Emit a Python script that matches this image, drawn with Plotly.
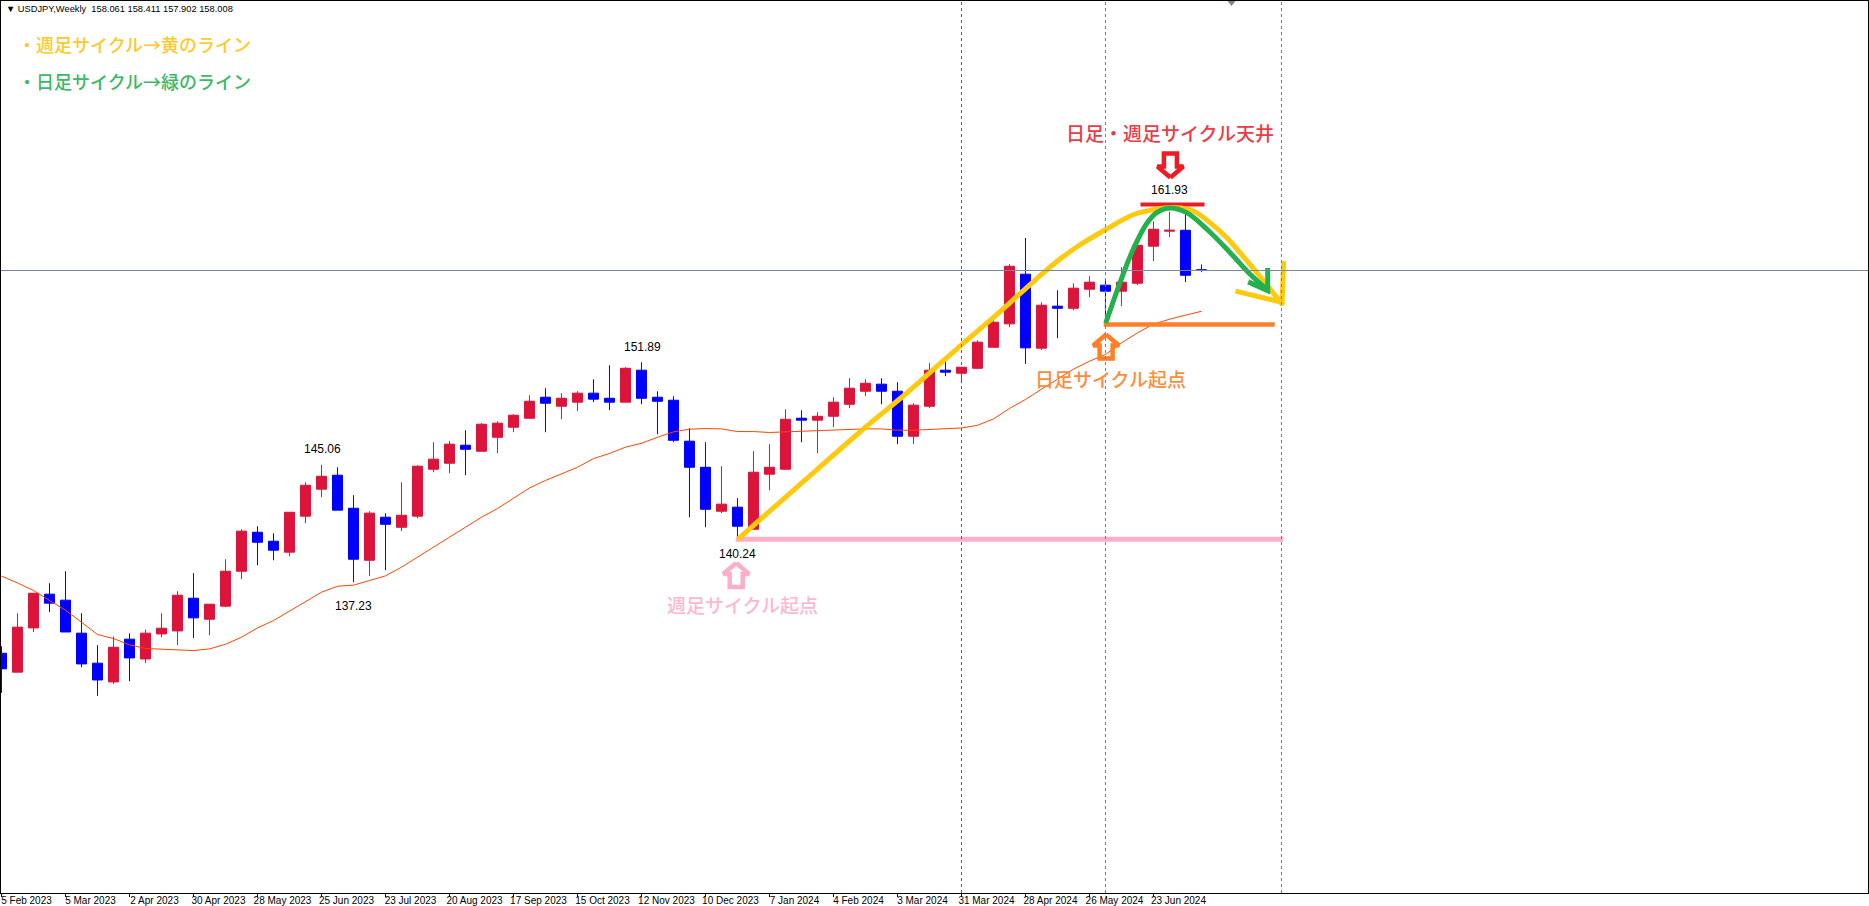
import plotly.graph_objects as go

# ---- weekly candles (USDJPY weekly) ----
weeks = list(range(76))
opens = [132.49,131.23,134.18,136.43,136.03,133.83,131.83,130.58,133.43,132.11,133.78,133.98,136.16,134.76,135.63,137.96,140.56,139.96,139.23,141.63,
         143.43,144.36,142.16,138.69,141.56,140.89,141.63,144.76,145.16,146.36,145.96,146.89,147.56,148.16,149.56,148.96,149.23,149.83,149.49,149.23,
         151.36,149.56,149.36,146.63,144.89,141.96,142.23,140.76,144.43,144.76,148.16,148.03,148.29,149.09,149.96,150.43,149.96,146.96,148.96,151.36,
         151.16,151.49,152.89,154.45,157.76,152.83,155.63,155.49,156.76,157.03,156.63,157.16,159.63,160.63,160.69,158.061]
highs = [132.96,135.16,136.51,137.16,137.96,135.16,133.03,133.61,133.81,134.07,135.16,136.63,137.83,135.76,138.76,140.76,140.96,140.49,141.89,143.89,
         145.06,144.89,143.03,141.96,141.83,143.89,145.03,146.56,146.63,147.36,147.83,147.96,148.43,149.69,150.16,149.83,149.96,150.76,151.69,151.56,
         151.89,149.96,149.63,147.49,146.56,144.96,142.83,145.96,146.43,148.76,148.69,148.56,149.56,150.83,150.76,150.83,150.56,149.16,151.83,151.96,
         151.56,153.36,154.76,158.43,160.18,155.89,156.69,157.16,157.63,157.43,158.23,159.96,161.29,161.93,161.76,158.411]
lows = [129.85,131.23,133.91,135.23,133.91,131.56,129.65,130.45,130.63,131.85,133.56,133.03,133.51,133.69,135.56,137.43,138.36,138.69,138.96,141.16,
        142.89,142.03,137.23,137.63,138.03,140.63,141.49,144.56,144.49,144.36,145.96,145.83,147.23,148.16,147.23,148.09,148.63,149.23,148.69,149.23,
        149.09,147.09,146.56,141.56,140.89,141.83,140.24,140.76,143.36,144.76,146.56,145.83,147.56,148.83,149.63,149.09,146.43,146.43,148.83,150.96,
        150.49,151.43,152.89,154.23,151.78,152.71,153.49,155.36,156.23,154.85,155.63,157.03,158.63,160.23,157.23,157.902]
closes = [131.45,134.23,136.49,135.83,133.91,131.78,130.71,132.89,132.18,133.83,134.16,136.36,134.85,135.76,137.96,140.63,139.89,139.36,141.89,143.69,
          144.29,142.03,138.76,141.83,141.09,141.69,144.96,145.43,146.43,146.09,147.76,147.83,148.36,149.29,149.16,149.49,149.83,149.43,149.23,151.49,
          149.49,149.29,146.69,144.89,142.09,142.43,140.96,144.56,144.89,148.09,148.03,148.29,149.23,150.16,150.49,149.96,146.96,149.03,151.36,151.23,
          151.56,153.23,154.56,158.29,152.85,155.69,155.49,156.83,157.23,156.63,157.23,159.69,160.76,160.69,157.69,158.008]
ma = [137.63,137.18,136.67,136.01,135.36,134.56,133.74,133.47,133.05,132.81,132.78,132.74,132.67,132.78,133.09,133.56,134.18,134.67,135.29,135.89,
      136.56,136.96,137.03,137.34,137.65,138.23,138.91,139.58,140.23,140.89,141.56,142.14,142.85,143.51,144.01,144.45,144.89,145.47,145.81,146.23,
      146.49,146.89,147.25,147.43,147.47,147.45,147.27,147.27,147.21,147.25,147.29,147.36,147.38,147.43,147.45,147.45,147.36,147.36,147.41,147.41,
      147.51,147.69,148.11,148.81,149.41,150.09,150.76,151.43,151.96,152.41,153.18,153.85,154.43,154.76,155.03,155.29]

tick_weeks = [0,4,8,12,16,20,24,28,32,36,40,44,48,52,56,60,64,68,72]
tick_labels = ["5 Feb 2023","5 Mar 2023","2 Apr 2023","30 Apr 2023","28 May 2023","25 Jun 2023","23 Jul 2023","20 Aug 2023",
               "17 Sep 2023","15 Oct 2023","12 Nov 2023","10 Dec 2023","7 Jan 2024","4 Feb 2024","3 Mar 2024","31 Mar 2024",
               "28 Apr 2024","26 May 2024","23 Jun 2024"]

# ---- hand-drawn analysis lines ----
yellow_x = [46.02,50.0,54.0,56.19,58.27,60.04,61.6,63.06,64.52,65.98,67.44,69.02,70.77,72.44,73.27,74.52,75.56,76.6,77.86,78.9,80.1]
yellow_y = [140.09,143.83,147.56,149.49,151.43,153.09,154.51,155.89,157.29,158.63,159.74,160.74,161.74,162.14,162.21,161.96,161.18,160.18,158.63,157.29,155.69]
yellow_head_x = [77.13,80.04,80.14]
yellow_head_y = [156.63,155.89,158.63]
green_x = [69.02,69.94,70.77,71.6,72.23,73.06,74.1,75.36,76.81,78.06,79.21]
green_y = [154.51,157.29,159.51,161.18,161.89,162.18,161.85,160.74,159.18,157.74,156.63]
green_head_x = [77.92,79.14,79.14]
green_head_y = [157.25,156.67,158.18]

last_close = 158.008
red_vline_week = 60
blue_vline_weeks = [69, 80]
pink_x, pink_y = [45.9, 80.1], [140.09, 140.09]
orange_x, orange_y = [68.89, 79.58], [154.40, 154.40]
top_x, top_y = [71.19, 75.19], [162.41, 162.41]

# extreme labels: (week, price position, text)
price_labels = [(20.05,146.09,"145.06"),(22.0,135.63,"137.23"),(40.05,152.89,"151.89"),(46.02,139.09,"140.24"),(73.0,163.36,"161.93")]

C_UP, C_DOWN = "#DC143C", "#0000FF"
C_MA = "#FF4500"
C_YELLOW, C_GREEN, C_ORANGE, C_RED, C_PINK = "#FFC90E", "#22B14C", "#FF7F27", "#ED1C24", "#FFAEC9"
X_RANGE = [-0.03125, 116.66]
Y_RANGE = [116.508, 175.975]
PX_W, PX_P = 1/16, 1/15   # weeks per pixel, yen per pixel at this figure size
JP = "Noto Sans CJK JP"
LAT = "Liberation Sans"

fig = go.Figure()
fig.add_trace(go.Candlestick(
    x=weeks, open=opens, high=highs, low=lows, close=closes, whiskerwidth=0,
    increasing=dict(line=dict(color=C_UP, width=1), fillcolor=C_UP),
    decreasing=dict(line=dict(color=C_DOWN, width=1), fillcolor=C_DOWN),
    showlegend=False, hoverinfo="skip"))
fig.add_trace(go.Scatter(x=weeks, y=ma, mode="lines", line=dict(color=C_MA, width=1), hoverinfo="skip"))

def stroke(x, y, color, width=4.5, shape="linear"):
    fig.add_trace(go.Scatter(x=x, y=y, mode="lines", hoverinfo="skip",
                             line=dict(color=color, width=width, shape=shape, simplify=False)))

stroke(pink_x, pink_y, C_PINK, 5)
fig.add_vline(x=red_vline_week, line=dict(color="#E0202C", width=1, dash="3px,3px"))
for w in blue_vline_weeks:
    fig.add_vline(x=w, line=dict(color="#1E90FF", width=1, dash="3px,3px"))
fig.add_hline(y=last_close, line=dict(color="#778899", width=1))
stroke(orange_x, orange_y, C_ORANGE, 4.5)
stroke(top_x, top_y, C_RED, 4)
stroke(yellow_x, yellow_y, C_YELLOW, 5, "spline")
stroke(yellow_head_x, yellow_head_y, C_YELLOW, 5)
stroke(green_x, green_y, C_GREEN, 5, "spline")
stroke(green_head_x, green_head_y, C_GREEN, 5)

# hollow block arrows: outline offsets in pixels from the tip, pointing up
ARROW_DX = [0, 13, 6.5, 6.5, -6.5, -6.5, -13, 0]
ARROW_DY = [0, 11, 11, 24, 24, 11, 11, 0]
def arrow(week, tip_price, color, down=False):
    sign = 1 if down else -1
    xs = [week + dx*PX_W for dx in ARROW_DX]
    ys = [tip_price + sign*dy*PX_P for dy in ARROW_DY]
    stroke(xs, ys, color, 4.5)

arrow(45.92, 138.51, C_PINK)
arrow(69.04, 153.74, C_ORANGE)
arrow(73.06, 164.21, C_RED, down=True)

# little grey marker on the top edge
fig.add_trace(go.Scatter(x=[76.88], y=[175.9], mode="markers", hoverinfo="skip",
                         marker=dict(symbol="triangle-down", size=8, color="#778899")))

ann = []
for wk, pr, txt in price_labels:
    ann.append(dict(x=wk, y=pr, xref="x", yref="y", text=txt, showarrow=False,
                    font=dict(family=LAT, size=12, color="#000000")))
for wk, pr, txt, col in [(73.06,167.22,"日足・週足サイクル天井","#EE3A45"),
                         (69.31,150.82,"日足サイクル起点","#FF8B3D"),
                         (46.31,135.73,"週足サイクル起点","#FFB7D0")]:
    ann.append(dict(x=wk, y=pr, xref="x", yref="y", text=txt, showarrow=False,
                    font=dict(family=JP, size=19, color=col, weight=500)))
for py, txt, col in [(44, "・週足サイクル→黄のライン", "#FFC92B"), (80.5, "・日足サイクル→緑のライン", "#3CB964")]:
    ann.append(dict(x=15/1867, y=1-(py-1)/892, xref="paper", yref="paper", text=txt, showarrow=False,
                    xanchor="left", yanchor="middle", font=dict(family=JP, size=18, color=col, weight=500)))
ann.append(dict(x=3/1867, y=1-8/892, xref="paper", yref="paper", showarrow=False, xanchor="left", yanchor="middle",
                text="▼ USDJPY,Weekly  158.061 158.411 157.902 158.008",
                font=dict(family=LAT, size=9.3, color="#000000")))

fig.update_layout(
    width=1869, height=906, autosize=False,
    margin=dict(l=1, r=1, t=1, b=13, pad=0, autoexpand=False),
    paper_bgcolor="#FFFFFF", plot_bgcolor="#FFFFFF",
    showlegend=False, boxgap=0.375, boxgroupgap=0,
    annotations=ann,
    hovermode=False,
    xaxis=dict(range=X_RANGE, tickmode="array", tickvals=tick_weeks, ticktext=tick_labels,
               showgrid=False, zeroline=False, rangeslider=dict(visible=False), automargin=False,
               showline=True, linecolor="#000000", linewidth=1, mirror=True,
               ticks="outside", ticklen=3, tickcolor="#000000", tickwidth=1,
               tickangle=0, ticklabelshift=25, ticklabelstandoff=-5,
               tickfont=dict(family=LAT, size=10, color="#000000")),
    yaxis=dict(range=Y_RANGE, showgrid=False, zeroline=False, showticklabels=False, ticks="", automargin=False,
               showline=True, linecolor="#000000", linewidth=1, mirror=True),
)

fig.write_html("out.html", config={"displayModeBar": False},
               post_script="document.body.style.margin='0';document.body.style.overflow='hidden';")
